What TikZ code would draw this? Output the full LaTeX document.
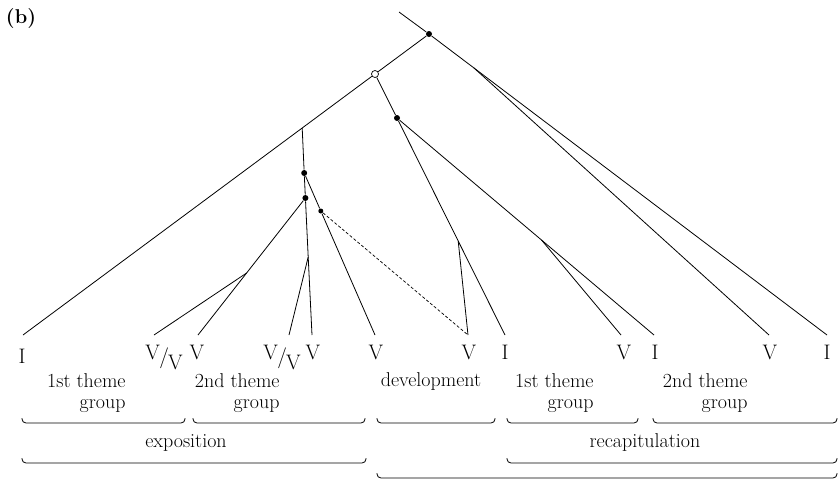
\documentclass[tikz,border=0pt]{standalone}
\usepackage{fontspec}
\usepackage{tikz}
\usetikzlibrary{positioning}
\newcommand{\VoverV}{V\kern-0.5pt\raisebox{-4pt}{/}\kern-1pt\raisebox{-10pt}{V}}
\newcommand{\groupbrace}[3]{\draw[brk] (#1,#3-5) -- (#1,#3) -- (#2,#3) -- (#2,#3-5);}

\begin{document}
\begin{tikzpicture}[x=1pt, y=-1pt,
    line width=0.8pt,
    dot/.style={circle, fill=black, draw=none, inner sep=0pt, minimum size=6pt},
    smalldot/.style={circle, fill=black, draw=none, inner sep=0pt, minimum size=5pt},
    opendot/.style={circle, fill=white, draw=black, line width=0.7pt, inner sep=0pt, minimum size=7pt},
    lab/.style={anchor=base, inner sep=0pt, font=\fontsize{21}{24}\selectfont},
    grp/.style={anchor=north east, inner sep=0pt, align=right, font=\fontsize{20}{21}\selectfont},
    sec/.style={anchor=base, inner sep=0pt, font=\fontsize{20}{21}\selectfont},
    brk/.style={line width=0.8pt, rounded corners=4pt}]
                        \useasboundingbox (0,0) rectangle (839,480);

                        \node[anchor=center, inner sep=0pt, font=\fontsize{20}{22}\selectfont\bfseries] (tag) at (21,19) {(b)};

                        \coordinate (top) at (399,12);
                        \coordinate (j5) at (474,68);
                        \coordinate (a) at (302.2,128);
                        \coordinate (j3) at (458.2,241);
                        \coordinate (j4) at (541.5,240);
                        \coordinate (j2) at (308.2,257);
                        \coordinate (j1) at (246.6,273);

                        \coordinate (l1) at (23,335);
                        \coordinate (l2) at (154,335);
                        \coordinate (l3) at (198,335);
                        \coordinate (l4) at (289,335);
                        \coordinate (l5) at (312,335);
                        \coordinate (l6) at (375,335);
                        \coordinate (l7) at (468,335);
                        \coordinate (l8) at (505,335);
                        \coordinate (l9) at (621,335);
                        \coordinate (l10) at (654,335);
                        \coordinate (l11) at (769,335);
                        \coordinate (l12) at (827,335);

                        \node[dot] (r) at (429,34) {};
                        \node[opendot] (o) at (375,74) {};
                        \node[dot] (b) at (397,118) {};
                        \node[dot] (d1) at (304.2,173) {};
                        \node[dot] (d2) at (305.4,198) {};
                        \node[smalldot] (d3) at (320.8,211) {};

                        \draw (top) -- (r);
                        \draw (r) -- (j5) -- (l12);
                        \draw (j5) -- (l11);
                        \draw (r) -- (o);
                        \draw (o) -- (a) -- (l1);
                        \draw (o) -- (b) -- (j3) -- (l8);
                        \draw (j3) -- (l7);
                        \draw (b) -- (j4) -- (l10);
                        \draw (j4) -- (l9);
                        \draw (a) -- (d1) -- (d2) -- (j2) -- (l5);
                        \draw (j2) -- (l4);
                        \draw (d1) -- (d3) -- (l6);
                        \draw (d2) -- (j1) -- (l3);
                        \draw (j1) -- (l2);
                        \draw[dashed, dash pattern=on 3pt off 2pt, line width=0.7pt] (d3) -- (l7);

                        \node[lab] (L1) at (22,363) {I};
                        \node[lab, anchor=base west] (L2) at (145,359) {\VoverV};
                        \node[lab] (L3) at (197,359) {V};
                        \node[lab, anchor=base west] (L4) at (263,359) {\VoverV};
                        \node[lab] (L5) at (313,359) {V};
                        \node[lab] (L6) at (376,359) {V};
                        \node[lab] (L7) at (469,359) {V};
                        \node[lab] (L8) at (505,359) {I};
                        \node[lab] (L9) at (624,359) {V};
                        \node[lab] (L10) at (655,359) {I};
                        \node[lab] (L11) at (770,359) {V};
                        \node[lab] (L12) at (827,359) {I};

                        \node[grp] (first) at (126,373) {1st theme\\group};
                        \node[grp] (second) at (280,373) {2nd theme\\group};
                        \node[sec] (dev) at (431,386) {development};
                        \node[grp] (rfirst) at (594,373) {1st theme\\group};
                        \node[grp] (rsecond) at (748,373) {2nd theme\\group};
                        \node[sec] (expo) at (186,447) {exposition};
                        \node[sec] (recap) at (645,447) {recapitulation};

                        \groupbrace{22}{185}{423}
                        \groupbrace{193}{365}{423}
                        \groupbrace{377}{495}{423}
                        \groupbrace{507}{638}{423}
                        \groupbrace{653}{837}{423}
                        \groupbrace{22}{366}{463}
                        \groupbrace{507}{837}{463}
                        \groupbrace{377}{837}{478}
                    \end{tikzpicture}
\end{document}
